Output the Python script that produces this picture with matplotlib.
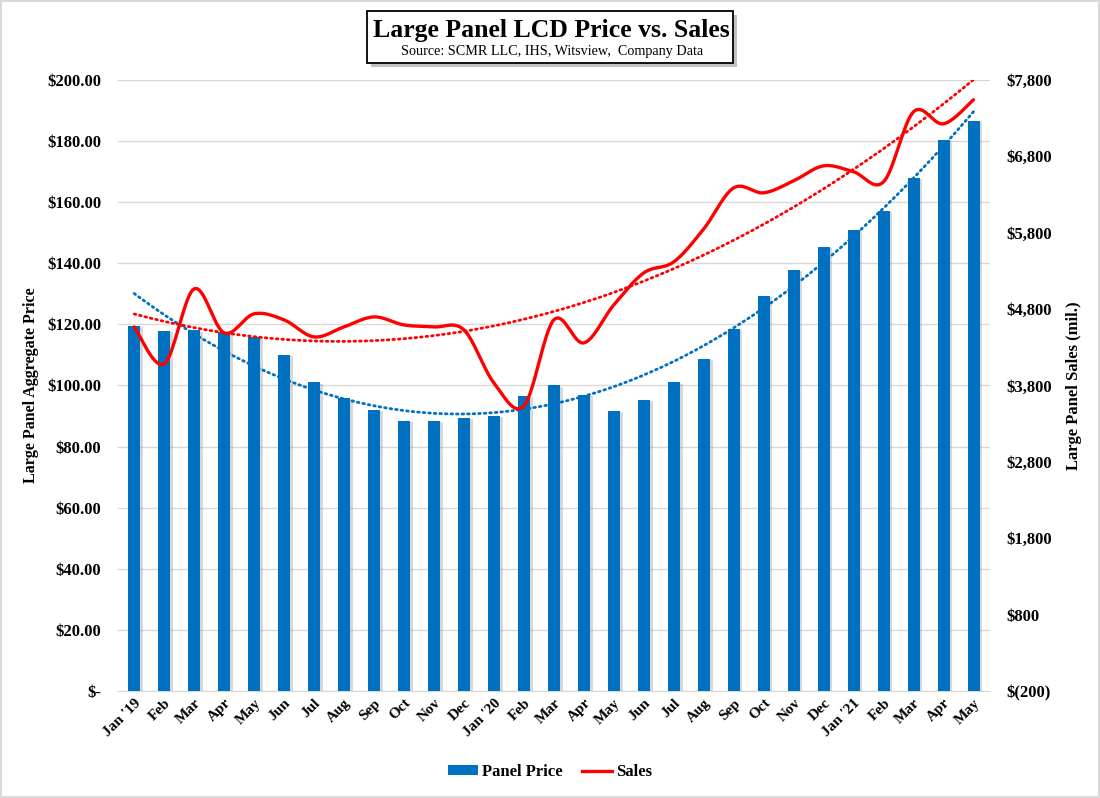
import numpy as np
import matplotlib
matplotlib.use("Agg")
import matplotlib.pyplot as plt
from matplotlib.patches import Rectangle
from matplotlib.lines import Line2D
from matplotlib.patches import Patch
import matplotlib.patheffects as pe
from matplotlib.ticker import FuncFormatter, MultipleLocator, FixedLocator

months = ["Jan '19", "Feb", "Mar", "Apr", "May", "Jun", "Jul", "Aug", "Sep", "Oct",
          "Nov", "Dec", "Jan '20", "Feb", "Mar", "Apr", "May", "Jun", "Jul", "Aug",
          "Sep", "Oct", "Nov", "Dec", "Jan '21", "Feb", "Mar", "Apr", "May"]
panel_price = [119.5, 117.8, 118.0, 117.5, 116.0, 110.0, 101.0, 96.0, 92.0, 88.4,
               88.4, 89.4, 90.0, 96.6, 100.0, 97.0, 91.6, 95.2, 101.0, 108.7,
               118.5, 129.3, 137.8, 145.3, 150.9, 157.1, 167.9, 180.4, 186.6]
sales = [4566, 4082, 5064, 4488, 4737, 4658, 4435, 4566, 4697, 4592,
         4566, 4527, 3833, 3532, 4658, 4357, 4854, 5273, 5417, 5849,
         6386, 6321, 6478, 6674, 6596, 6465, 7382, 7224, 7539]
sales_ticks = [-200, 800, 1800, 2800, 3800, 4800, 5800, 6800, 7800]

plt.rcParams['font.family'] = ['Liberation Serif', 'DejaVu Serif']

BLUE = '#0070C0'
RED = '#FF0000'

fig = plt.figure(figsize=(11, 7.98), dpi=100)
ax = fig.add_axes([0.107, 0.134, 0.793, 0.766])
ax2 = ax.twinx()
ax.set_zorder(1)
ax2.set_zorder(2)
ax.patch.set_visible(False)

x = np.arange(len(months))

bars = ax.bar(x, panel_price, width=0.4, color=BLUE, zorder=3)
for b in bars:
    b.set_path_effects([pe.SimplePatchShadow(offset=(2, -1), shadow_rgbFace='#808080', alpha=0.3),
                        pe.Normal()])

# polynomial trendline (order 2) for panel price
t = x + 1.0
cp = np.polyfit(t, panel_price, 2)
tt = np.linspace(t[0], t[-1], 300)
ax.plot(tt - 1, np.polyval(cp, tt), color=BLUE, lw=2.0, ls=(0, (0.6, 1.4)),
        dash_capstyle='round', zorder=4)

ax.set_ylim(0, 200)
ax.set_xlim(-0.55, len(months) - 0.45)
ax.yaxis.set_major_locator(MultipleLocator(20))
ax.yaxis.set_major_formatter(FuncFormatter(lambda v, p: "$-" if v == 0 else f"${v:,.2f}"))
ax.grid(axis='y', color='#d9d9d9', lw=1.0, zorder=0)
ax.set_axisbelow(True)
for s in ['top', 'right', 'left']:
    ax.spines[s].set_visible(False)
ax.spines['bottom'].set_color('#d9d9d9')
ax.tick_params(axis='both', length=0)
ax.tick_params(axis='y', pad=12)
ax.tick_params(axis='x', pad=4)
ax.set_xticks(x)
ax.set_xticklabels(months, rotation=45, ha='right', rotation_mode='anchor',
                   fontsize=11, fontweight='bold')
for lab in ax.get_yticklabels():
    lab.set_fontweight('bold')
    lab.set_fontsize(12)
ax.set_ylabel("Large Panel Aggregate Price", fontsize=11.5, fontweight='bold', labelpad=6)


# smoothed sales line (Excel-like Bezier smoothing)
def smooth(xs, ys, n=20):
    xs = np.asarray(xs, float)
    ys = np.asarray(ys, float)
    px, py = [], []
    N = len(xs)
    for i in range(N - 1):
        i0 = max(i - 1, 0)
        i3 = min(i + 2, N - 1)
        c1x = xs[i] + (xs[i + 1] - xs[i0]) / 6.0
        c1y = ys[i] + (ys[i + 1] - ys[i0]) / 6.0
        c2x = xs[i + 1] - (xs[i3] - xs[i]) / 6.0
        c2y = ys[i + 1] - (ys[i3] - ys[i]) / 6.0
        s = np.linspace(0, 1, n, endpoint=(i == N - 2))
        b0 = (1 - s) ** 3
        b1 = 3 * (1 - s) ** 2 * s
        b2 = 3 * (1 - s) * s ** 2
        b3 = s ** 3
        px.extend(b0 * xs[i] + b1 * c1x + b2 * c2x + b3 * xs[i + 1])
        py.extend(b0 * ys[i] + b1 * c1y + b2 * c2y + b3 * ys[i + 1])
    return np.array(px), np.array(py)

sx, sy = smooth(x, sales)
ax2.plot(sx, sy, color=RED, lw=2.4, solid_capstyle='round', zorder=5)
cs = np.polyfit(t, sales, 2)
ax2.plot(tt - 1, np.polyval(cs, tt), color=RED, lw=2.0, ls=(0, (0.6, 1.4)),
         dash_capstyle='round', zorder=4)

ax2.set_ylim(-200, 7800)
ax2.yaxis.set_major_locator(FixedLocator(sales_ticks))
def rfmt(v, p):
    if v < 0:
        return f"$({abs(v):,.0f})"
    return f"${v:,.0f}"
ax2.yaxis.set_major_formatter(FuncFormatter(rfmt))
for s in ['top', 'right', 'left', 'bottom']:
    ax2.spines[s].set_visible(False)
ax2.tick_params(axis='y', length=0, pad=12)
for lab in ax2.get_yticklabels():
    lab.set_fontweight('bold')
    lab.set_fontsize(12)
ax2.set_ylabel("Large Panel Sales (mil.)", fontsize=12, fontweight='bold', labelpad=10)

# title box with shadow
bx0, by0, bw, bh = 367 / 1100, 1 - 63 / 798, 366 / 1100, 52 / 798
fig.patches.append(Rectangle((bx0 + 4 / 1100, by0 - 4 / 798), bw, bh, transform=fig.transFigure,
                             facecolor='#9a9a9a', edgecolor='none', alpha=0.6, zorder=1))
fig.patches.append(Rectangle((bx0, by0), bw, bh, transform=fig.transFigure,
                             facecolor='white', edgecolor='black', lw=1.3, zorder=2))
fig.text(0.5015, 1 - 30 / 798, "Large Panel LCD Price vs. Sales", ha='center', va='center',
         fontsize=18.5, fontweight='bold', zorder=3)
fig.text(0.5015, 1 - 52 / 798, "Source: SCMR LLC, IHS, Witsview,  Company Data", ha='center',
         va='center', fontsize=10.2, zorder=3)

# outer border
fig.patches.append(Rectangle((0.001, 0.001), 0.998, 0.998, transform=fig.transFigure,
                             facecolor='none', edgecolor='#d9d9d9', lw=1.5, zorder=0))

handles = [Patch(facecolor=BLUE, edgecolor='none'), Line2D([0], [0], color=RED, lw=2.4)]
fig.legend(handles, ["Panel Price", "Sales"], loc='center', bbox_to_anchor=(0.5, 1 - 772 / 798),
           ncol=2, frameon=False, prop={'weight': 'bold', 'size': 12}, handlelength=1.8,
           handleheight=0.5, columnspacing=1.2, handletextpad=0.2)

fig.savefig("out.png", dpi=100)
